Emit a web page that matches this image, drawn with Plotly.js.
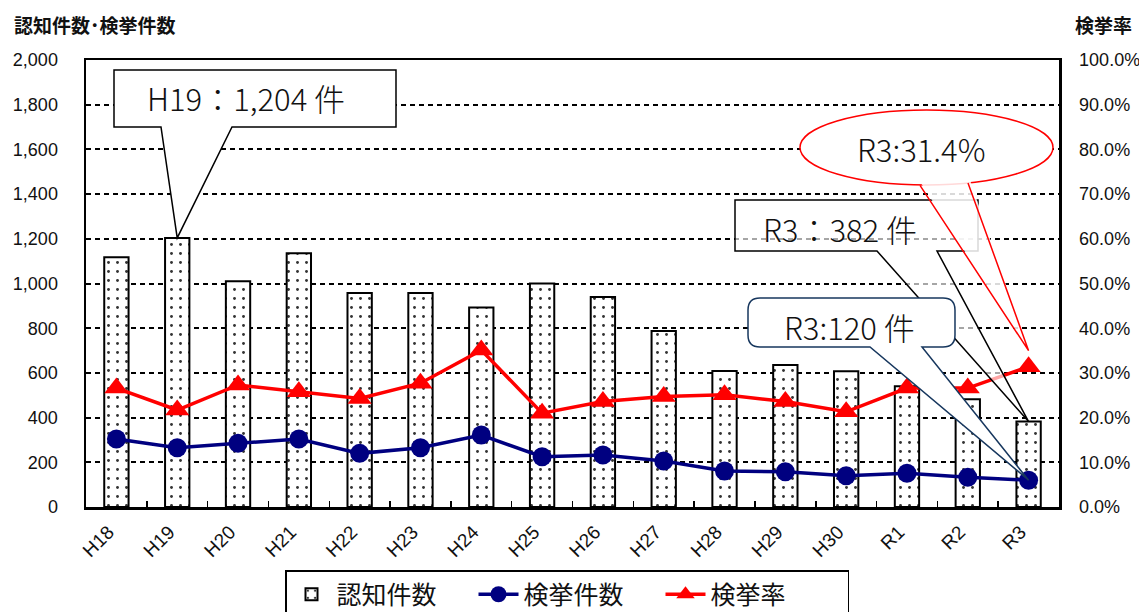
<!DOCTYPE html>
<html>
<head>
<meta charset="utf-8">
<script src="https://cdn.plot.ly/plotly-3.0.1.min.js"></script>
<style>html,body{margin:0;padding:0;background:#fff;}#chart{width:1139px;height:612px;}</style>
</head>
<body>
<div id="chart"></div>
<script>
// ---- data ----
const categories = ["H18","H19","H20","H21","H22","H23","H24","H25","H26","H27","H28","H29","H30","R1","R2","R3"];
const ninchi = [1117, 1204, 1010, 1135, 958, 957, 893, 1000, 940, 787, 608, 635, 607, 540, 482, 382];
const kenkyo = [304, 265, 285, 304, 240, 265, 322, 225, 233, 206, 161, 158, 140, 151, 133, 120];
const kenkyoRate = [0.266, 0.217, 0.273, 0.258, 0.243, 0.277, 0.351, 0.210, 0.236, 0.247, 0.251, 0.236, 0.213, 0.266, 0.266, 0.314];
const leftTicks = [0, 200, 400, 600, 800, 1000, 1200, 1400, 1600, 1800, 2000];
const rightTicks = [0, 0.1, 0.2, 0.3, 0.4, 0.5, 0.6, 0.7, 0.8, 0.9, 1.0];
const seriesNames = ["認知件数", "検挙件数", "検挙率"];
const leftTitle = "認知件数･検挙件数";
const rightTitle = "検挙率";
const calloutH19 = "H19：1,204 件";
const calloutR3a = "R3：382 件";
const calloutR3b = "R3:120 件";
const calloutR3c = "R3:31.4%";

// ---- geometry helpers (plot area in pixels) ----
const FIG_W = 1139, FIG_H = 612;
const M = {l: 86, r: 80, t: 60, b: 105};
const PW = FIG_W - M.l - M.r, PH = FIG_H - M.t - M.b;
const Y1MAX = 2000, Y2MAX = 1.0;
const px = x => (x - M.l) / PW;
const py = y => (M.t + PH - y) / PH;
const catX = i => M.l + (i + 0.5) * PW / categories.length;
const valY = (v, max) => M.t + PH - v / max * PH;
function path(cmds) {
  return cmds.map(c => {
    if (typeof c === 'string') return c;
    return c.map((v, k) => (k % 2 === 0 ? px(v) : py(v)).toFixed(5)).join(',');
  }).join(' ');
}

const i19 = categories.indexOf("H19"), iR3 = categories.indexOf("R3");
const tip1 = [catX(i19), valY(ninchi[i19], Y1MAX)];
const tip2 = [catX(iR3), valY(ninchi[iR3], Y1MAX)];
const tip3 = [catX(iR3), valY(kenkyo[iR3], Y1MAX)];
const tip4 = [catX(iR3), valY(kenkyoRate[iR3], Y2MAX) - 16];

const FONT_JP = "Noto Sans CJK JP, sans-serif";
const FONT_BOX = "Noto Sans CJK JP, sans-serif";
const NAVY = "#000080";
const BOXNAVY = "#17375E";

const traces = [
  {
    type: 'bar', name: seriesNames[0], x: categories, y: ninchi, yaxis: 'y',
    width: 0.4,
    marker: {
      color: 'white',
      line: {color: 'black', width: 2},
      pattern: {shape: '.', fgcolor: '#333', bgcolor: 'white', size: 9, solidity: 0.08, fillmode: 'replace'}
    }
  },
  {
    type: 'scatter', mode: 'lines+markers', name: seriesNames[1], x: categories, y: kenkyo, yaxis: 'y',
    line: {color: NAVY, width: 3.5},
    marker: {symbol: 'circle', size: 19, color: NAVY}
  },
  {
    type: 'scatter', mode: 'lines+markers', name: seriesNames[2], x: categories, y: kenkyoRate, yaxis: 'y2',
    line: {color: '#FF0000', width: 3.5},
    marker: {symbol: 'triangle-up', size: 21, color: '#FF0000'}
  }
];

const shapes = [
  // H19 callout
  {type: 'path', xref: 'paper', yref: 'paper', layer: 'above',
   path: path(['M', [114, 70], 'L', [396, 70], 'L', [396, 127], 'L', [232, 127], 'L', tip1, 'L', [161, 127], 'L', [114, 127], 'Z']),
   fillcolor: 'white', line: {color: 'black', width: 1.5}},
  // R3 382 callout
  {type: 'path', xref: 'paper', yref: 'paper', layer: 'above',
   path: path(['M', [735, 200], 'L', [978, 200], 'L', [978, 251], 'L', [937, 251], 'L', tip2, 'L', [877, 251], 'L', [735, 251], 'Z']),
   fillcolor: 'rgba(255,255,255,0.65)', line: {color: 'black', width: 1.5}},
  // R3 120 rounded callout
  {type: 'path', xref: 'paper', yref: 'paper', layer: 'above',
   path: path(['M', [760, 298], 'L', [943, 298], 'Q', [955, 298, 955, 310], 'L', [955, 335], 'Q', [955, 347, 943, 347],
               'L', [922, 347], 'L', tip3, 'L', [870, 347], 'L', [760, 347], 'Q', [748, 347, 748, 335], 'L', [748, 310], 'Q', [748, 298, 760, 298], 'Z']),
   fillcolor: 'white', line: {color: BOXNAVY, width: 1.5}},
  // R3 rate ellipse callout
  {type: 'circle', xref: 'paper', yref: 'paper', layer: 'above',
   x0: px(800), x1: px(1053), y0: py(185), y1: py(110),
   fillcolor: 'white', line: {color: '#FF0000', width: 1.5}},
  {type: 'path', xref: 'paper', yref: 'paper', layer: 'above',
   path: path(['M', [919, 180], 'L', tip4, 'L', [969, 177], 'Z']),
   fillcolor: 'rgba(255,255,255,0.85)', line: {width: 0}},
  {type: 'path', xref: 'paper', yref: 'paper', layer: 'above',
   path: path(['M', [920, 185.4], 'L', tip4, 'L', [968, 182.9]]),
   fillcolor: 'rgba(0,0,0,0)', line: {color: '#FF0000', width: 1.5}}
];

const boxFont = {family: FONT_BOX, size: 31, color: '#111', weight: 300};
const annotations = [
  {xref: 'paper', yref: 'paper', x: px(12), y: py(25), xanchor: 'left', yanchor: 'middle', showarrow: false,
   text: leftTitle, font: {family: FONT_JP, size: 19, color: '#111', weight: 'bold'}},
  {xref: 'paper', yref: 'paper', x: px(1103), y: py(25), xanchor: 'center', yanchor: 'middle', showarrow: false,
   text: rightTitle, font: {family: FONT_JP, size: 19, color: '#111', weight: 'bold'}},
  {xref: 'paper', yref: 'paper', x: px(246), y: py(98), xanchor: 'center', yanchor: 'middle', showarrow: false,
   text: calloutH19, font: boxFont},
  {xref: 'paper', yref: 'paper', x: px(840), y: py(228), xanchor: 'center', yanchor: 'middle', showarrow: false,
   text: calloutR3a, font: boxFont},
  {xref: 'paper', yref: 'paper', x: px(849), y: py(326), xanchor: 'center', yanchor: 'middle', showarrow: false,
   text: calloutR3b, font: boxFont},
  {xref: 'paper', yref: 'paper', x: px(921), y: py(148), xanchor: 'center', yanchor: 'middle', showarrow: false,
   text: calloutR3c, font: boxFont}
];

const layout = {
  width: FIG_W, height: FIG_H,
  margin: M,
  paper_bgcolor: 'white', plot_bgcolor: 'white',
  showlegend: true,
  font: {family: FONT_JP, color: '#111'},
  xaxis: {
    type: 'category', range: [-0.5, categories.length - 0.5], autorange: false,
    showline: true, linecolor: 'black', linewidth: 2.5, mirror: true,
    ticks: 'inside', tickson: 'boundaries', ticklen: 6, tickwidth: 1.5, tickcolor: 'black',
    tickangle: -45, ticklabelshift: -8, ticklabelstandoff: 4,
    tickfont: {family: "Liberation Sans, Noto Sans CJK JP, sans-serif", size: 19, color: '#111'},
    showgrid: false, automargin: false
  },
  yaxis: {
    range: [0, Y1MAX], autorange: false, tickvals: leftTicks, tickformat: ',d',
    showline: true, linecolor: 'black', linewidth: 2.5,
    showgrid: true, gridcolor: 'black', gridwidth: 2, griddash: '5px,4px',
    zeroline: false, ticks: '', ticklabelstandoff: 22, automargin: false,
    tickfont: {family: "Liberation Sans, sans-serif", size: 18, color: '#111'}
  },
  yaxis2: {
    range: [0, Y2MAX], autorange: false, tickvals: rightTicks, tickformat: '.1%',
    overlaying: 'y', side: 'right',
    showline: true, linecolor: 'black', linewidth: 2.5,
    showgrid: false, zeroline: false, ticks: '', ticklabelstandoff: 14, automargin: false,
    tickfont: {family: "Liberation Sans, sans-serif", size: 18, color: '#111'}
  },
  legend: {
    orientation: 'h', xref: 'container', yref: 'container',
    x: 567 / FIG_W, xanchor: 'center', y: 1 - 570 / FIG_H, yanchor: 'top',
    bgcolor: 'white', bordercolor: 'black', borderwidth: 1.5,
    font: {family: FONT_JP, size: 25, color: '#111'},
    itemwidth: 40, tracegroupgap: 0, entrywidth: 132
  },
  shapes: shapes,
  annotations: annotations
};

Plotly.newPlot('chart', traces, layout, {displayModeBar: false, staticPlot: true});
</script>
</body>
</html>
